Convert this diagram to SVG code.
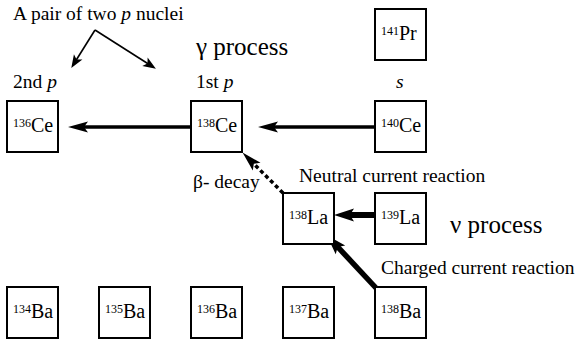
<svg xmlns="http://www.w3.org/2000/svg" width="578" height="345" viewBox="0 0 578 345">
<style>
.box{fill:#fff;stroke:#000;stroke-width:2}
.t{font-family:'Liberation Serif',Times,'DejaVu Serif',serif;fill:#000}
.lab{font-size:19.5px}
.big{font-size:25px}
.el{font-size:20px}
.sup{font-size:12px}
.c{stroke:#000;fill:none}
</style>
<defs>
<marker id="ah" markerUnits="userSpaceOnUse" markerWidth="22" markerHeight="14" refX="8" refY="7" orient="auto" overflow="visible">
<path d="M0,1.5 L20,7 L0,12.5 L4,7 Z" fill="#000"/>
</marker>
<marker id="ahb" markerUnits="userSpaceOnUse" markerWidth="22" markerHeight="16" refX="8" refY="8" orient="auto" overflow="visible">
<path d="M0,1.5 L20,8 L0,14.5 L4,8 Z" fill="#000"/>
</marker>
<marker id="ahs" markerUnits="userSpaceOnUse" markerWidth="14" markerHeight="12" refX="6" refY="6" orient="auto" overflow="visible">
<path d="M0,1 L13,6 L0,11 L3,6 Z" fill="#000"/>
</marker>
</defs>

<g id="connectors">
<line class="c" x1="95" y1="30" x2="75" y2="62" stroke-width="1.6" marker-end="url(#ahs)"/>
<line class="c" x1="95" y1="30" x2="150" y2="65" stroke-width="1.6" marker-end="url(#ahs)"/>
<line class="c" x1="191" y1="127" x2="80" y2="127" stroke-width="3.5" marker-end="url(#ah)"/>
<line class="c" x1="375" y1="127" x2="270" y2="127" stroke-width="3.5" marker-end="url(#ah)"/>
<line class="c" x1="283" y1="193" x2="251" y2="161" stroke-width="3.5" stroke-dasharray="4,3" marker-end="url(#ah)"/>
<line class="c" x1="375" y1="215" x2="346" y2="215" stroke-width="6" marker-end="url(#ahb)"/>
<line class="c" x1="376" y1="288" x2="335" y2="244" stroke-width="5.5" marker-end="url(#ahb)"/>
</g>

<g id="labels" class="t" font-family="Liberation Serif, DejaVu Serif, serif">
<text class="lab" x="13" y="20">A pair of two <tspan font-style="italic">p</tspan> nuclei</text>
<text class="big" x="196" y="55">γ process</text>
<text class="lab" x="13" y="88">2nd <tspan font-style="italic">p</tspan></text>
<text class="lab" x="196" y="88">1st <tspan font-style="italic">p</tspan></text>
<text class="lab" x="396" y="88" font-style="italic">s</text>
<text class="lab" x="193" y="188">β- decay</text>
<text class="lab" x="299" y="182">Neutral current reaction</text>
<text class="big" x="450" y="233">ν process</text>
<text class="lab" x="381" y="274">Charged current reaction</text>
</g>

<g id="Pr141"><rect class="box" x="375" y="9" width="51" height="51"/><text class="t" x="381" y="40"><tspan class="sup" dy="-5">141</tspan><tspan class="el" dy="5">Pr</tspan></text></g>
<g id="Ce136"><rect class="box" x="7" y="101" width="51" height="51"/><text class="t" x="13" y="132"><tspan class="sup" dy="-5">136</tspan><tspan class="el" dy="5">Ce</tspan></text></g>
<g id="Ce138"><rect class="box" x="191" y="101" width="51" height="51"/><text class="t" x="197" y="132"><tspan class="sup" dy="-5">138</tspan><tspan class="el" dy="5">Ce</tspan></text></g>
<g id="Ce140"><rect class="box" x="375" y="101" width="51" height="51"/><text class="t" x="381" y="132"><tspan class="sup" dy="-5">140</tspan><tspan class="el" dy="5">Ce</tspan></text></g>
<g id="La138"><rect class="box" x="283" y="193" width="51" height="51"/><text class="t" x="289" y="224"><tspan class="sup" dy="-5">138</tspan><tspan class="el" dy="5">La</tspan></text></g>
<g id="La139"><rect class="box" x="375" y="193" width="51" height="51"/><text class="t" x="381" y="224"><tspan class="sup" dy="-5">139</tspan><tspan class="el" dy="5">La</tspan></text></g>
<g id="Ba134"><rect class="box" x="7" y="287" width="51" height="51"/><text class="t" x="13" y="318"><tspan class="sup" dy="-5">134</tspan><tspan class="el" dy="5">Ba</tspan></text></g>
<g id="Ba135"><rect class="box" x="99" y="287" width="51" height="51"/><text class="t" x="105" y="318"><tspan class="sup" dy="-5">135</tspan><tspan class="el" dy="5">Ba</tspan></text></g>
<g id="Ba136"><rect class="box" x="191" y="287" width="51" height="51"/><text class="t" x="197" y="318"><tspan class="sup" dy="-5">136</tspan><tspan class="el" dy="5">Ba</tspan></text></g>
<g id="Ba137"><rect class="box" x="283" y="287" width="51" height="51"/><text class="t" x="289" y="318"><tspan class="sup" dy="-5">137</tspan><tspan class="el" dy="5">Ba</tspan></text></g>
<g id="Ba138"><rect class="box" x="375" y="287" width="51" height="51"/><text class="t" x="381" y="318"><tspan class="sup" dy="-5">138</tspan><tspan class="el" dy="5">Ba</tspan></text></g>
</svg>
